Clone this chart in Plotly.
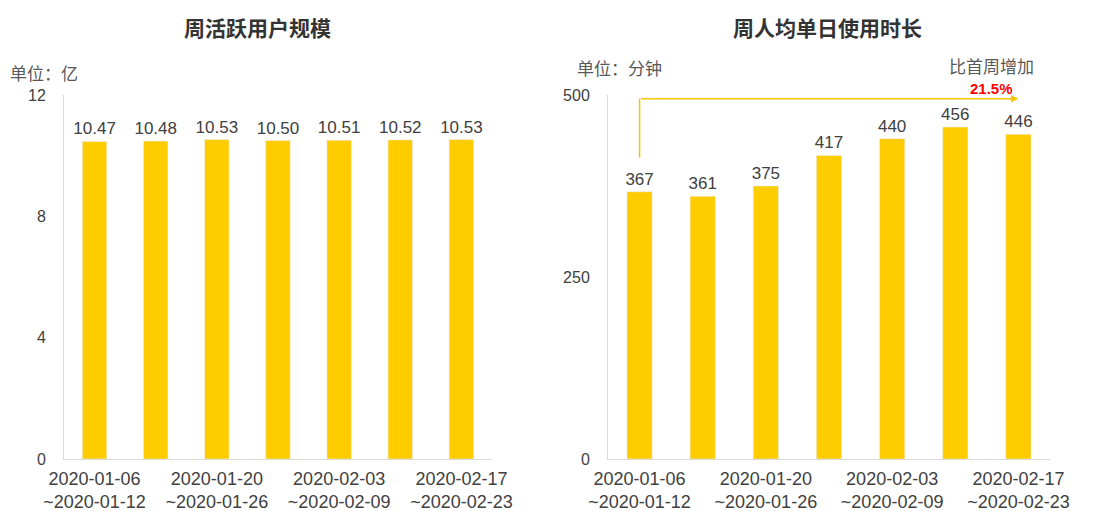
import plotly.graph_objects as go

# ---- data ----
weeks = ["2020-01-06<br>~2020-01-12", "2020-01-13<br>~2020-01-19", "2020-01-20<br>~2020-01-26",
         "2020-01-27<br>~2020-02-02", "2020-02-03<br>~2020-02-09", "2020-02-10<br>~2020-02-16",
         "2020-02-17<br>~2020-02-23"]
wau = [10.47, 10.48, 10.53, 10.50, 10.51, 10.52, 10.53]          # 亿
daily_minutes = [367, 361, 375, 417, 440, 456, 446]               # 分钟
label_idx = [0, 2, 4, 6]
left_ticks = [0, 4, 8, 12]
right_ticks = [0, 250, 500]

OFF = 8  # page body margin
W, H = 1096 - OFF, 511 - OFF
BAR = "#FFCC00"
TXT = "#404040"
FONT = "Liberation Sans, Arial, Noto Sans CJK SC, sans-serif"
CJK = "Noto Sans CJK SC, Microsoft YaHei, sans-serif"

def px(x):
    return (x - OFF) / W

def py(y):
    return 1 - (y - OFF) / H

xs = list(range(len(weeks)))

fig = go.Figure()
fig.add_trace(go.Bar(x=xs, y=wau, marker_color=BAR, xaxis="x", yaxis="y",
                     texttemplate="%{y:.2f}", textposition="outside", constraintext="none",
                     textfont=dict(size=17, color=TXT, family=FONT), cliponaxis=False,
                     hoverinfo="skip"))
fig.add_trace(go.Bar(x=xs, y=daily_minutes, marker_color=BAR, xaxis="x2", yaxis="y2",
                     texttemplate="%{y}", textposition="outside", constraintext="none",
                     textfont=dict(size=17, color=TXT, family=FONT), cliponaxis=False,
                     hoverinfo="skip"))

xcommon = dict(range=[-0.5, len(weeks) - 0.5], tickmode="array",
               tickvals=[xs[i] for i in label_idx], ticktext=[weeks[i] for i in label_idx],
               showline=True, linecolor="#D9D9D9", linewidth=1, showgrid=False, zeroline=False,
               ticks="", tickfont=dict(size=18, color=TXT, family=FONT), fixedrange=True,
               ticklabelstandoff=3, automargin=False)
ycommon = dict(showline=True, linecolor="#D9D9D9", linewidth=1, showgrid=False, zeroline=False,
               ticks="", tickfont=dict(size=16, color=TXT, family=FONT), ticklabelstandoff=14,
               automargin=False)

ydom = [py(459), py(95)]
fig.update_layout(
    width=W, height=H, margin=dict(l=0, r=0, t=0, b=0, autoexpand=False),
    paper_bgcolor="white", plot_bgcolor="white", showlegend=False, bargap=0.6,
    font=dict(family=FONT, color=TXT),
    xaxis=dict(domain=[px(64), px(492)], anchor="y", **xcommon),
    yaxis=dict(domain=ydom, anchor="x", range=[0, 12], tickvals=left_ticks, **ycommon),
    xaxis2=dict(domain=[px(608), px(1050)], anchor="y2", **xcommon),
    yaxis2=dict(domain=ydom, anchor="x2", range=[0, 500], tickvals=right_ticks, **ycommon),
)

def label(x, y, text, size, color, family=CJK, xanchor="center"):
    fig.add_annotation(x=px(x), y=py(y), xref="paper", yref="paper", text=text,
                       xanchor=xanchor, yanchor="middle", showarrow=False,
                       font=dict(size=size, color=color, family=family))

# titles
label(257, 27, "<b>周活跃用户规模</b>", 21, "#333333")
label(827, 27, "<b>周人均单日使用时长</b>", 21, "#333333")
# units
label(8, 73, "单位：亿", 17, "#595959", xanchor="left")
label(575, 68, "单位：分钟", 17, "#595959", xanchor="left")

# growth arrow
arrow_y = 495
first, last = daily_minutes[0], daily_minutes[-1]
growth = (last - first) / first * 100
ARROW = "#F5C400"
fig.add_shape(type="line", xref="x2", yref="y2", x0=xs[0], x1=xs[0], y0=first + 47, y1=arrow_y,
              line=dict(color=ARROW, width=1.5))
fig.add_annotation(xref="x2", yref="y2", axref="x2", ayref="y2", x=xs[-1], y=arrow_y,
                   ax=xs[0], ay=arrow_y, text="", showarrow=True, arrowhead=2, arrowsize=1,
                   arrowwidth=1.5, arrowcolor=ARROW)
label(991, 65, "比首周增加", 17, "#595959")
label(991, 88, f"<b>{growth:.1f}%</b>", 15, "#FF0000", family=FONT)

fig.write_html("out.html")
